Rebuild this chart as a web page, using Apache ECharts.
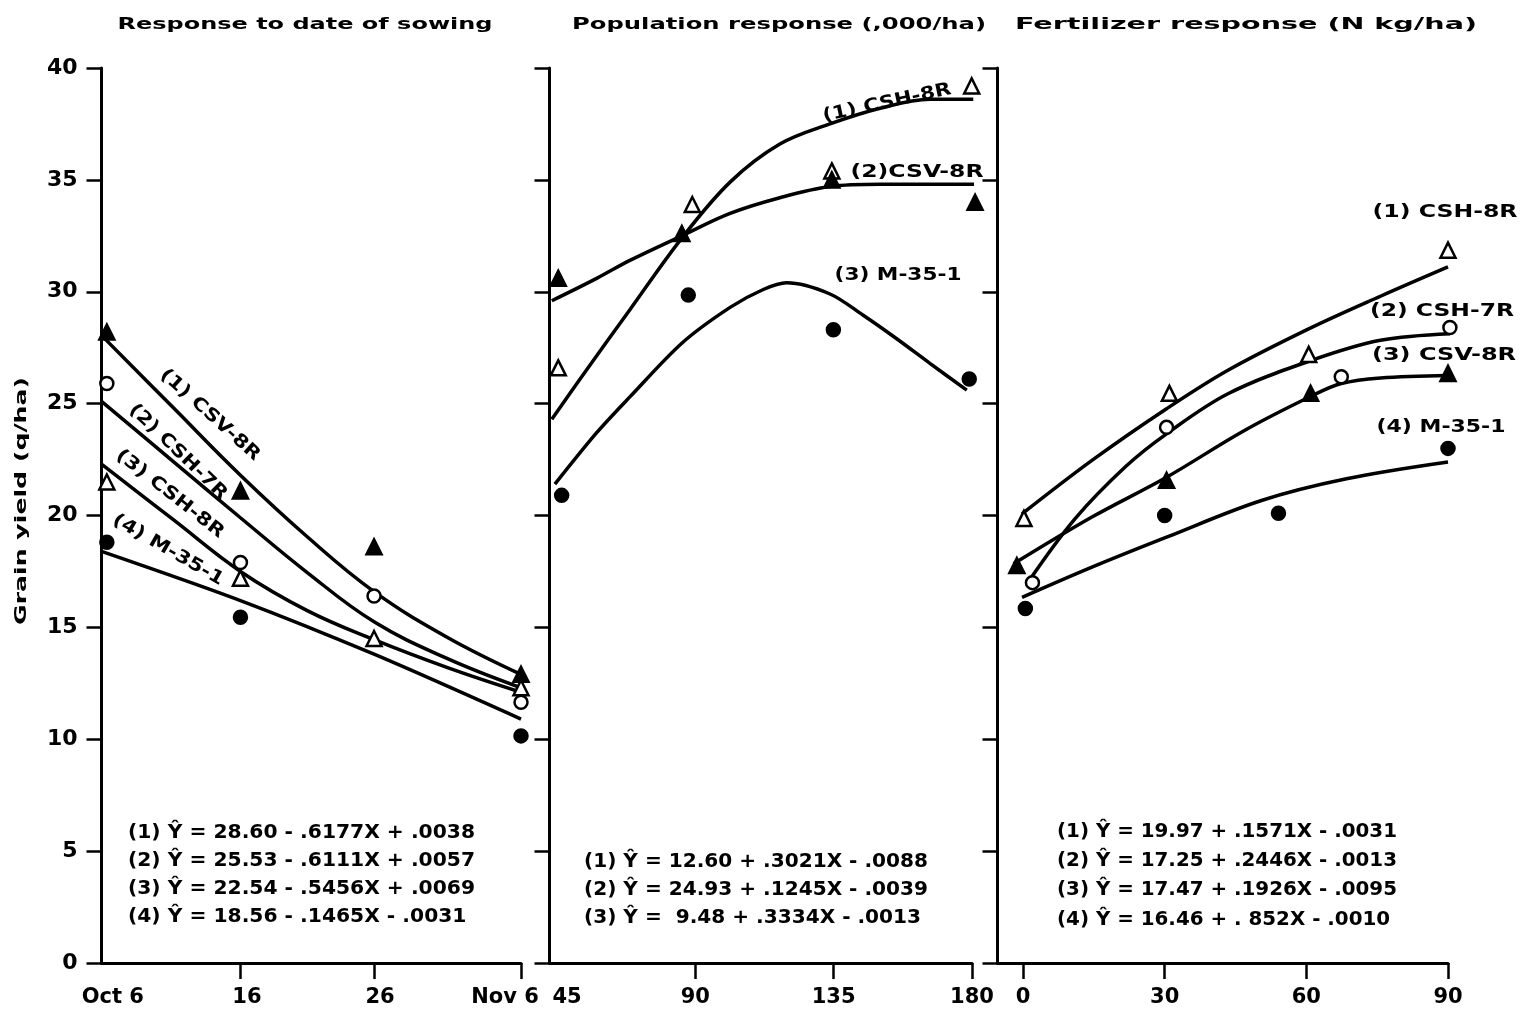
<!DOCTYPE html>
<html>
<head>
<meta charset="utf-8">
<script src="https://cdn.jsdelivr.net/npm/echarts@6/dist/echarts.min.js"></script>
<style>
html,body{margin:0;padding:0;background:#fff;}
#c{width:1522px;height:1015px;}
</style>
</head>
<body>
<div id="c"></div>
<script>
// ---------------- DATA ----------------
// Panel 1: Response to date of sowing (x = days after Oct 6)
const sowTickDays   = [10, 20, 31];
const sowLabelDays  = [0, 10, 20, 31];
const sowLabels     = ['Oct 6', '16', '26', 'Nov 6'];
const sowDays       = [0, 10, 20, 31];
const sowCSV8R      = [28.2, 21.1, 18.6, 12.9];
const sowCSH7R      = [25.9, 17.9, 16.4, 11.65];
const sowCSH8R      = [21.5, 17.2, 14.5, 12.3];
const sowM351Days   = [0, 10, 31];
const sowM351       = [18.8, 15.45, 10.15];
const sowFitDays    = [-0.4, 5, 10, 15, 20, 25.5, 31];
const sowFitCSV8R   = [28.05, 24.8, 21.8, 19.05, 16.6, 14.55, 12.9];
const sowFitCSH7R   = [25.1, 22.4, 19.9, 17.45, 15.25, 13.6, 12.3];
const sowFitCSH8R   = [22.3, 19.8, 17.5, 15.75, 14.45, 13.2, 12.1];
const sowFitM351Days = [-0.4, 10, 20, 31];
const sowFitM351    = [18.4, 16.2, 13.8, 10.9];

// Panel 2: Population response (,000/ha)
const popTickVals   = [90, 135, 180];
const popLabelVals  = [45, 90, 135, 180];
const popCSH8RX     = [45.4, 89, 134.4, 179.9];
const popCSH8R      = [26.6, 33.9, 35.4, 39.2];
const popCSV8RX     = [45.4, 85.6, 134.4, 181];
const popCSV8R      = [30.6, 32.6, 35.0, 34.0];
const popM351X      = [46.5, 87.7, 134.9, 179.1];
const popM351       = [20.9, 29.85, 28.3, 26.1];
const popFitCSH8RX  = [43.3, 52.5, 68.7, 85.6, 101.3, 117.5, 133.8, 150.1, 166.3, 180.4];
const popFitCSH8R   = [24.3, 26.1, 29.2, 32.4, 34.9, 36.6, 37.5, 38.2, 38.6, 38.6];
const popFitCSV8RX  = [43.3, 57.9, 68.7, 85.6, 101.3, 117.5, 133.8, 150.1, 166.3, 184.8];
const popFitCSV8R   = [29.6, 30.6, 31.4, 32.5, 33.5, 34.2, 34.7, 34.8, 34.8, 34.8];
const popFitM351X   = [44.3, 57.9, 68.7, 85.6, 101.3, 112.1, 119.7, 133.8, 144.6, 155.5, 166.3, 178.3];
const popFitM351    = [21.4, 23.7, 25.3, 27.7, 29.3, 30.1, 30.4, 29.9, 28.95, 27.9, 26.8, 25.6];

// Panel 3: Fertilizer response (N kg/ha)
const fertTickVals  = [0, 30, 60, 90];
const fertLabelVals = [0, 30, 60, 90];
const fertCSH8RX    = [0.2, 31, 60.5, 90];
const fertCSH8R     = [19.87, 25.46, 27.2, 31.86];
const fertCSH7RX    = [2, 30.4, 67.4, 90.4];
const fertCSH7R     = [17.0, 23.94, 26.2, 28.4];
const fertCSV8RX    = [-1.3, 30.4, 60.9, 90];
const fertCSV8R     = [17.76, 21.57, 25.46, 26.35];
const fertM351X     = [0.5, 30, 54.1, 90];
const fertM351      = [15.84, 20.0, 20.1, 23.0];
const fertFitCSH8RX = [-0.2, 14.6, 30.4, 43.4, 60.6, 75.7, 90];
const fertFitCSH8R  = [20.07, 22.46, 24.77, 26.49, 28.35, 29.8, 31.11];
const fertFitCSH7RX = [1.3, 11, 21.8, 30.4, 43.4, 61.2, 75.7, 91];
const fertFitCSH7R  = [17.09, 19.85, 22.2, 23.65, 25.44, 26.94, 27.83, 28.13];
const fertFitCSV8RX = [-2, 14.6, 30.4, 46.9, 61.2, 67.4, 75.7, 90];
const fertFitCSV8R  = [17.84, 19.93, 21.71, 23.8, 25.35, 25.9, 26.15, 26.26];
const fertFitM351X  = [-0.2, 14.6, 30.4, 50.5, 68.5, 90];
const fertFitM351   = [16.34, 17.69, 19.03, 20.67, 21.64, 22.39];

// Y axis
const yMin = 0, yMax = 40, yStep = 5;

// Texts
const titles = ['Response to date of sowing', 'Population response (,000/ha)', 'Fertilizer response (N kg/ha)'];
const yName = 'Grain yield (q/ha)';
const eqSowing = ['(1) \u0176 = 28.60 - .6177X + .0038', '(2) \u0176 = 25.53 - .6111X + .0057', '(3) \u0176 = 22.54 - .5456X + .0069', '(4) \u0176 = 18.56 - .1465X - .0031'];
const eqPop = ['(1) \u0176 = 12.60 + .3021X - .0088', '(2) \u0176 = 24.93 + .1245X - .0039', '(3) \u0176 =  9.48 + .3334X - .0013'];
const eqFert = ['(1) \u0176 = 19.97 + .1571X - .0031', '(2) \u0176 = 17.25 + .2446X - .0013', '(3) \u0176 = 17.47 + .1926X - .0095', '(4) \u0176 = 16.46 + . 852X - .0010'];
const sowCurveNames = ['(1) CSV-8R', '(2) CSH-7R', '(3) CSH-8R', '(4) M-35-1'];
const popCurveNames = ['(1) CSH-8R', '(2)CSV-8R', '(3) M-35-1'];
const fertCurveNames = ['(1) CSH-8R', '(2) CSH-7R', '(3) CSV-8R', '(4) M-35-1'];

// ---------------- BUILD ----------------
const FONT = '"DejaVu Sans", sans-serif';
const BLACK = '#000';
const mctx = document.createElement('canvas').getContext('2d');
function textWidth(str, size) {
  mctx.font = 'bold ' + size + 'px "DejaVu Sans"';
  return mctx.measureText(str).width;
}
function txt(str, x, y, size, targetW, rotDeg, align, scaleOverride) {
  const s = scaleOverride || (targetW ? targetW / textWidth(str, size) : 1);
  const a = align || 'center';
  return {
    type: 'text', x: x, y: y, rotation: (rotDeg || 0) * Math.PI / 180,
    scaleX: s, scaleY: 1, silent: true, z: 20,
    style: { text: str, fontSize: size, fontFamily: FONT, fontWeight: 'bold', fill: BLACK,
             align: a, verticalAlign: 'middle', textAlign: a, textVerticalAlign: 'middle' }
  };
}
function eqBlock(lines, x, ys, size, targetW) {
  const s = targetW / textWidth(lines[0], size);
  return lines.map((l, i) => txt(l, x, ys[i], size, null, 0, 'left', s));
}
function pts(xs, ys) { return xs.map((x, i) => [x, ys[i]]); }

function xAxisDef(gi, min, max, tickVals, labelVals, fmt, rich) {
  return {
    type: 'value', gridIndex: gi, min: min, max: max, position: 'bottom',
    splitLine: { show: false },
    axisLine: { show: true, onZero: false, lineStyle: { color: BLACK, width: 3 } },
    axisTick: { show: true, customValues: tickVals, length: 16, inside: false, lineStyle: { color: BLACK, width: 2.5 } },
    axisLabel: { show: true, customValues: labelVals, formatter: fmt, rich: rich || {}, margin: 24,
                 color: BLACK, fontFamily: FONT, fontWeight: 'bold', fontSize: 21, hideOverlap: false }
  };
}
function yAxisDef(gi, showLabels) {
  return {
    type: 'value', gridIndex: gi, min: yMin, max: yMax, interval: yStep, position: 'left',
    splitLine: { show: false },
    axisLine: { show: true, onZero: false, lineStyle: { color: BLACK, width: 3 } },
    axisTick: { show: true, length: 15, lineStyle: { color: BLACK, width: 2.5 } },
    axisLabel: { show: showLabels, margin: 24, color: BLACK, fontFamily: FONT, fontWeight: 'bold', fontSize: 22 }
  };
}
function scatter(gi, xs, ys, kind) {
  const filled = kind.indexOf('filled') === 0;
  const tri = kind.indexOf('Tri') > 0;
  return {
    type: 'scatter', xAxisIndex: gi, yAxisIndex: gi, data: pts(xs, ys),
    symbol: tri ? 'triangle' : 'circle', symbolSize: tri ? 15 : 13,
    itemStyle: { color: filled ? BLACK : '#fff', borderColor: BLACK, borderWidth: 2.5, opacity: 1 },
    z: 5, clip: false, silent: true, emphasis: { disabled: true }
  };
}
function fit(gi, xs, ys, sm) {
  return {
    type: 'line', xAxisIndex: gi, yAxisIndex: gi, data: pts(xs, ys), smooth: sm || 0.35,
    showSymbol: false, symbol: 'none', lineStyle: { color: BLACK, width: 3.5 },
    clip: false, z: 3, silent: true, emphasis: { disabled: true }
  };
}

const sowFmt = v => { const i = sowLabelDays.indexOf(v); return '{s' + i + '|' + sowLabels[i] + '}'; };
const sowRich = { s0: { padding: [0, 0, 0, 12] }, s1: { padding: [0, 0, 0, 13] }, s2: { padding: [0, 0, 0, 12] }, s3: { padding: [0, 32, 0, 0] } };
const popFmt = v => v === 45 ? '{a|45}' : String(v);
const popRich = { a: { padding: [0, 0, 0, 20] } };

const option = {
  animation: false,
  backgroundColor: '#fff',
  grid: [
    { left: 101.5, top: 68, width: 419.5, height: 895, outerBoundsMode: 'none' },
    { left: 549.5, top: 68, width: 422.5, height: 895, outerBoundsMode: 'none' },
    { left: 997.5, top: 68, width: 450.5, height: 895, outerBoundsMode: 'none' }
  ],
  xAxis: [
    xAxisDef(0, -0.4, 31, sowTickDays, sowLabelDays, sowFmt, sowRich),
    xAxisDef(1, 42.55, 180, popTickVals, popLabelVals, popFmt, popRich),
    xAxisDef(2, -5.4, 90, fertTickVals, fertLabelVals, v => String(v))
  ],
  yAxis: [yAxisDef(0, true), yAxisDef(1, false), yAxisDef(2, false)],
  series: [
    fit(0, sowFitDays, sowFitCSV8R, 0.4), fit(0, sowFitDays, sowFitCSH7R, 0.4),
    fit(0, sowFitDays, sowFitCSH8R, 0.4), fit(0, sowFitM351Days, sowFitM351, 0.3),
    scatter(0, sowDays, sowCSV8R, 'filledTri'), scatter(0, sowDays, sowCSH7R, 'openCircle'),
    scatter(0, sowDays, sowCSH8R, 'openTri'), scatter(0, sowM351Days, sowM351, 'filledCircle'),

    fit(1, popFitCSH8RX, popFitCSH8R), fit(1, popFitCSV8RX, popFitCSV8R), fit(1, popFitM351X, popFitM351, 0.3),
    scatter(1, popCSH8RX, popCSH8R, 'openTri'), scatter(1, popCSV8RX, popCSV8R, 'filledTri'),
    scatter(1, popM351X, popM351, 'filledCircle'),

    fit(2, fertFitCSH8RX, fertFitCSH8R), fit(2, fertFitCSH7RX, fertFitCSH7R),
    fit(2, fertFitCSV8RX, fertFitCSV8R), fit(2, fertFitM351X, fertFitM351),
    scatter(2, fertCSH8RX, fertCSH8R, 'openTri'), scatter(2, fertCSH7RX, fertCSH7R, 'openCircle'),
    scatter(2, fertCSV8RX, fertCSV8R, 'filledTri'), scatter(2, fertM351X, fertM351, 'filledCircle')
  ],
  graphic: { elements: [].concat(
    [txt(titles[0], 305, 25, 15, 375), txt(titles[1], 779, 25, 15, 414), txt(titles[2], 1246, 25, 15, 462)],
    [txt(yName, 22, 501, 15, 248, 90)],
    [txt(sowCurveNames[0], 210, 415, 18, 128, -42), txt(sowCurveNames[1], 178, 452, 18, 129, -44),
     txt(sowCurveNames[2], 170, 494, 18, 132, -38), txt(sowCurveNames[3], 168, 550, 18, 125, -30)],
    [txt(popCurveNames[0], 887, 103, 18, 131, 12), txt(popCurveNames[1], 917, 172, 18, 133, 0),
     txt(popCurveNames[2], 898, 275, 18, 127, 0)],
    [txt(fertCurveNames[0], 1445, 213, 17, 145), txt(fertCurveNames[1], 1442, 312, 17, 144),
     txt(fertCurveNames[2], 1444, 356, 17, 144), txt(fertCurveNames[3], 1441, 428, 17, 129)],
    eqBlock(eqSowing, 128, [833, 861, 889, 917], 20, 347),
    eqBlock(eqPop, 584, [862, 890, 918], 20, 344),
    eqBlock(eqFert, 1057, [832, 861, 890, 920], 20, 340)
  ) }
};

const chart = echarts.init(document.getElementById('c'), null, { renderer: 'canvas' });
chart.setOption(option);
</script>
</body>
</html>
